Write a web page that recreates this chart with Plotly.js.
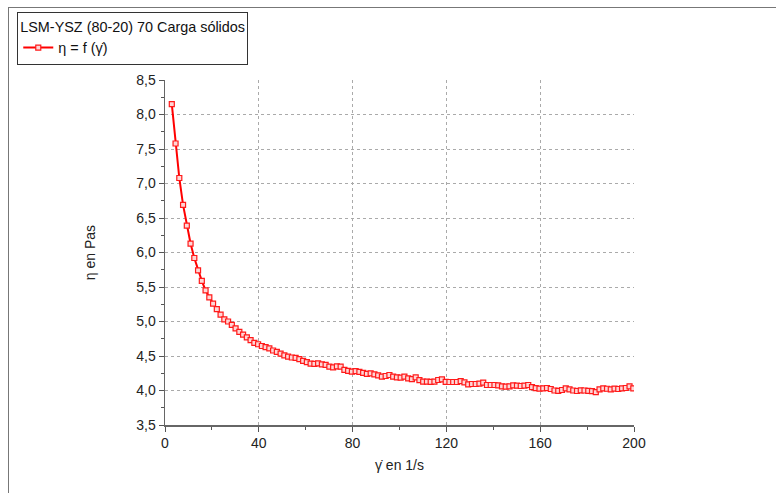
<!DOCTYPE html>
<html>
<head>
<meta charset="utf-8">
<script src="https://cdn.plot.ly/plotly-3.0.1.min.js"></script>
<style>
  html, body { margin: 0; padding: 0; background: #fff; }
  #wrap { position: relative; width: 776px; height: 493px; overflow: hidden; }
  #chart { position: absolute; left: 0; top: 0; width: 776px; height: 493px; }
  #frame { position: absolute; left: 8px; top: 7px; width: 800px; height: 520px;
           border-top: 1px solid #777; border-left: 1px solid #777; pointer-events: none; }
</style>
</head>
<body>
<div id="wrap"><div id="chart"></div><div id="frame"></div></div>
<script>
// Shear rate (1/s)
const shearRate = [
  2.9, 4.5, 6.1, 7.7, 9.3, 10.9, 12.5, 14.1, 15.7, 17.3,
  18.9, 20.5, 22.1, 23.7, 25.3, 26.9, 28.5, 30.1, 31.7, 33.3,
  34.9, 36.5, 38.1, 39.7, 41.3, 42.9, 44.5, 46.1, 47.7, 49.3,
  50.9, 52.5, 54.1, 55.7, 57.3, 58.9, 60.5, 62.1, 63.7, 65.3,
  66.9, 68.5, 70.1, 71.7, 73.3, 74.9, 76.5, 78.1, 79.7, 81.3,
  82.9, 84.5, 86.1, 87.7, 89.3, 90.9, 92.5, 94.1, 95.7, 97.3,
  98.9, 100.5, 102.1, 103.7, 105.3, 106.9, 108.5, 110.1, 111.7, 113.3,
  114.9, 116.5, 118.1, 119.7, 121.3, 122.9, 124.5, 126.1, 127.7, 129.3,
  130.9, 132.5, 134.1, 135.7, 137.3, 138.9, 140.5, 142.1, 143.7, 145.3,
  146.9, 148.5, 150.1, 151.7, 153.3, 154.9, 156.5, 158.1, 159.7, 161.3,
  162.9, 164.5, 166.1, 167.7, 169.3, 170.9, 172.5, 174.1, 175.7, 177.3,
  178.9, 180.5, 182.1, 183.7, 185.3, 186.9, 188.5, 190.1, 191.7, 193.3,
  194.9, 196.5, 198.1, 199.7
];
// Viscosity (Pa·s)
const viscosity = [
  8.15, 7.58, 7.08, 6.69, 6.39, 6.13, 5.92, 5.74, 5.59, 5.45,
  5.35, 5.26, 5.18, 5.10, 5.03, 5.00, 4.95, 4.90, 4.85, 4.81,
  4.77, 4.73, 4.69, 4.67, 4.645, 4.63, 4.61, 4.58, 4.56, 4.535,
  4.51, 4.49, 4.478, 4.472, 4.455, 4.43, 4.41, 4.39, 4.385, 4.394,
  4.38, 4.37, 4.345, 4.336, 4.35, 4.345, 4.30, 4.283, 4.273, 4.28,
  4.27, 4.255, 4.24, 4.248, 4.235, 4.22, 4.20, 4.21, 4.225, 4.20,
  4.19, 4.186, 4.20, 4.175, 4.165, 4.19, 4.15, 4.128, 4.128, 4.125,
  4.13, 4.152, 4.162, 4.125, 4.123, 4.123, 4.123, 4.135, 4.119, 4.09,
  4.094, 4.094, 4.10, 4.114, 4.08, 4.08, 4.08, 4.075, 4.06, 4.056,
  4.06, 4.075, 4.07, 4.065, 4.07, 4.08, 4.05, 4.035, 4.027, 4.03,
  4.036, 4.022, 4.00, 3.995, 4.007, 4.03, 4.015, 4.00, 3.993, 4.003,
  4.00, 3.995, 3.99, 3.975, 4.017, 4.03, 4.025, 4.017, 4.027, 4.022,
  4.03, 4.036, 4.06, 4.032
];
const xTicks = [0, 40, 80, 120, 160, 200];
const yTicks = [3.5, 4.0, 4.5, 5.0, 5.5, 6.0, 6.5, 7.0, 7.5, 8.0, 8.5];
const legendTitle = 'LSM-YSZ (80-20) 70 Carga sólidos';
const seriesName = 'η = f (γ̇)';
const xTitle = 'γ̇ en 1/s';
const yTitle = 'η en Pas';

const trace = {
  x: shearRate, y: viscosity, name: seriesName,
  type: 'scatter', mode: 'lines+markers',
  line: { color: '#ff0000', width: 2 },
  marker: { symbol: 'square', size: 5, color: '#ffd6d6', line: { width: 1.2, color: '#ff1a1a' } }
};

const font = { family: 'Liberation Sans, Arial, sans-serif', size: 14, color: '#222' };
const legFont = { family: font.family, size: 14.4, color: '#111' };
const layout = {
  width: 776, height: 493,
  margin: { l: 165, r: 142, t: 80, b: 68 },
  paper_bgcolor: 'rgba(0,0,0,0)', plot_bgcolor: '#fff',
  font: font,
  separators: ',.',
  showlegend: true,
  legend: {
    x: -0.315, y: 1.197, xanchor: 'left', yanchor: 'top',
    bgcolor: '#fff', bordercolor: '#333', borderwidth: 1,
    font: legFont,
    title: { text: legendTitle, font: legFont },
    tracegroupgap: 0, itemwidth: 30
  },
  xaxis: {
    range: [0, 200], tickvals: xTicks, ticks: 'outside', ticklen: 5, tickcolor: '#555',
    minor: { dtick: 20, ticks: 'outside', ticklen: 3, tickcolor: '#555', showgrid: false },
    showline: true, linecolor: '#666', linewidth: 1.5,
    showgrid: true, gridcolor: '#aaa', griddash: 'dot', gridwidth: 1,
    zeroline: false,
    title: { text: xTitle, font: font, standoff: 10 },
    tickfont: font
  },
  yaxis: {
    range: [3.5, 8.5], tickvals: yTicks, tickformat: '.1f', ticks: 'outside', ticklen: 5, tickcolor: '#555',
    minor: { dtick: 0.25, ticks: 'outside', ticklen: 3, tickcolor: '#555', showgrid: false },
    showline: true, linecolor: '#666', linewidth: 1.5,
    showgrid: true, gridcolor: '#aaa', griddash: 'dot', gridwidth: 1,
    zeroline: false,
    title: { text: yTitle, font: font, standoff: 37 },
    tickfont: font
  }
};

Plotly.newPlot('chart', [trace], layout, { staticPlot: true, displayModeBar: false });
</script>
</body>
</html>
